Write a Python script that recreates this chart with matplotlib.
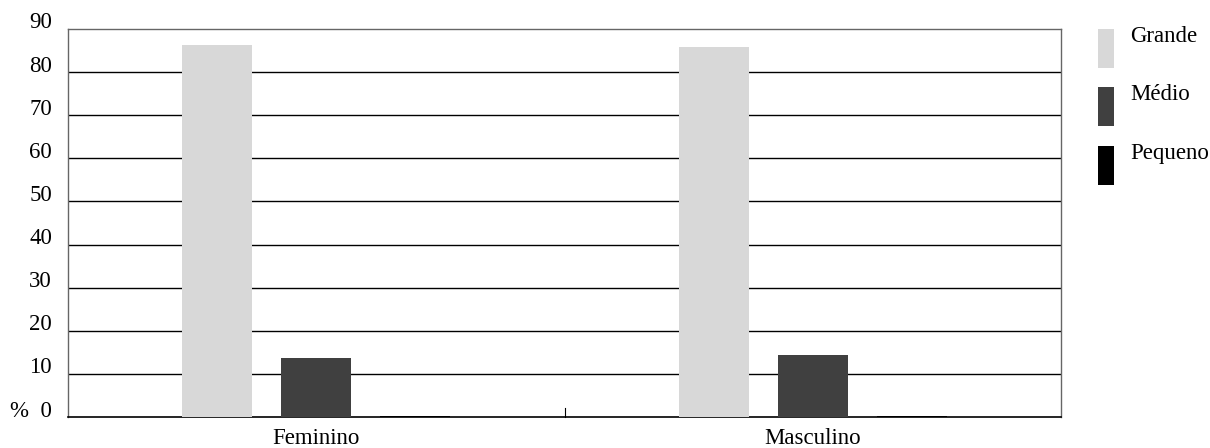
import matplotlib
matplotlib.use("Agg")
import matplotlib.pyplot as plt
import matplotlib.transforms as mtrans
from matplotlib.patches import Rectangle
import numpy as np

categories = ["Feminino", "Masculino"]
series = ["Grande", "Médio", "Pequeno"]
grande = [86.4, 85.8]
medio = [13.7, 14.4]
pequeno = [0.25, 0.25]
yticks = [0, 10, 20, 30, 40, 50, 60, 70, 80, 90]
ytick_labels = ["%  0", "10", "20", "30", "40", "50", "60", "70", "80", "90"]
colors = ["#d8d8d8", "#404040", "#000000"]

plt.rcParams['font.family'] = ['Liberation Serif', 'DejaVu Serif']
FS = 16.5

fig = plt.figure(figsize=(12.1, 4.48), dpi=100)
W, H = 1210, 448
left, right, top, bottom = 68, 1061, 29, 417
ax = fig.add_axes([left / W, 1 - bottom / H, (right - left) / W, (bottom - top) / H])

x = np.arange(len(categories))
bw = 70 / 496.5
step = 99 / 496.5
for i, (vals, c) in enumerate(zip([grande, medio, pequeno], colors)):
    ax.bar(x + (i - 1) * step, vals, width=bw, color=c, zorder=3)

ax.set_xlim(-0.5, 1.5)
ax.set_ylim(0, 90)
ax.set_yticks(yticks)
ax.set_yticklabels([])
ax.tick_params(axis='y', length=0)
off = mtrans.ScaledTranslation(-16 / 100, 6 / 100, fig.dpi_scale_trans)
for yv, lab in zip(yticks, ytick_labels):
    ax.text(0, yv, lab, transform=ax.get_yaxis_transform() + off,
            ha='right', va='center', fontsize=FS)
ax.set_xticks(x)
ax.set_xticklabels(categories, fontsize=FS)
ax.tick_params(axis='x', length=0, pad=8)
# category boundary tick
ax.plot([0.5, 0.5], [0, 2], color='black', lw=0.8, zorder=4, clip_on=False)

for yv in yticks[1:-1]:
    ax.axhline(yv, color='black', lw=1.0, zorder=1)
for s in ['left', 'top', 'right']:
    ax.spines[s].set_color('#666666')
    ax.spines[s].set_linewidth(1.0)
ax.spines['bottom'].set_color('black')
ax.spines['bottom'].set_linewidth(1.2)

# legend
leg_rows = [29, 87, 146]
for name, c, y0 in zip(series, colors, leg_rows):
    fig.add_artist(Rectangle((1098 / W, 1 - (y0 + 39) / H), 16 / W, 39 / H,
                             transform=fig.transFigure, facecolor=c, edgecolor='none'))
    fig.text(1130 / W, 1 - (y0 + 8) / H, name, ha='left', va='center', fontsize=FS)

fig.savefig("out.png", dpi=100)
